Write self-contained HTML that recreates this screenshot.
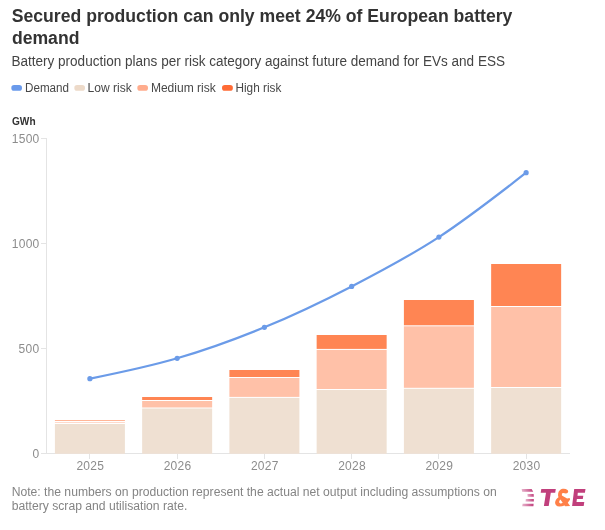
<!DOCTYPE html>
<html><head><meta charset="utf-8"><style>
html,body{margin:0;padding:0;background:#ffffff;width:605px;height:530px;overflow:hidden}
svg{display:block;will-change:transform}
text{font-family:"Liberation Sans",sans-serif}
.ax{font-size:12px;fill:#8c8c8c}
</style></head><body>
<svg width="605" height="530" viewBox="0 0 605 530">
<rect width="605" height="530" fill="#ffffff"/>
<text x="11.7" y="22" font-size="18" font-weight="bold" fill="#333333" textLength="500.7" lengthAdjust="spacingAndGlyphs">Secured production can only meet 24% of European battery</text>
<text x="11.9" y="44.3" font-size="18" font-weight="bold" fill="#333333" textLength="67.5" lengthAdjust="spacingAndGlyphs">demand</text>
<text x="11.4" y="65.8" font-size="14" fill="#444444" textLength="493.6" lengthAdjust="spacingAndGlyphs">Battery production plans per risk category against future demand for EVs and ESS</text>
<g font-size="12" fill="#484848">
<rect x="11.3" y="85.1" width="10.7" height="5.7" rx="2.85" fill="#6a9aeb"/>
<text x="25" y="92.1" textLength="44" lengthAdjust="spacingAndGlyphs">Demand</text>
<rect x="74.3" y="85.1" width="10.7" height="5.7" rx="2.85" fill="#eddac9"/>
<text x="87.6" y="92.1" textLength="44.2" lengthAdjust="spacingAndGlyphs">Low risk</text>
<rect x="137.3" y="85.1" width="10.7" height="5.7" rx="2.85" fill="#ffac8d"/>
<text x="150.9" y="92.1" textLength="64.9" lengthAdjust="spacingAndGlyphs">Medium risk</text>
<rect x="222" y="85.1" width="10.9" height="5.7" rx="2.85" fill="#ff6b35"/>
<text x="235.5" y="92.1" textLength="45.8" lengthAdjust="spacingAndGlyphs">High risk</text>
</g>
<text x="12" y="125" font-size="11.5" font-weight="bold" fill="#333333" textLength="23.6" lengthAdjust="spacingAndGlyphs">GWh</text>
<line x1="46.5" y1="138" x2="46.5" y2="454" stroke="#e4e4e4" stroke-width="1"/><line x1="41" y1="453.5" x2="570" y2="453.5" stroke="#e4e4e4" stroke-width="1"/><line x1="41" y1="138.5" x2="46" y2="138.5" stroke="#e4e4e4" stroke-width="1"/><line x1="41" y1="243.5" x2="46" y2="243.5" stroke="#e4e4e4" stroke-width="1"/><line x1="41" y1="348.5" x2="46" y2="348.5" stroke="#e4e4e4" stroke-width="1"/>
<rect x="54.90" y="424.00" width="70" height="29.75" fill="#efe0d2"/>
<rect x="54.90" y="422.00" width="70" height="1.00" fill="#ffc1a8" fill-opacity="0.6"/>
<rect x="54.90" y="420.00" width="70" height="1.00" fill="#ff8553" fill-opacity="0.6"/>
<rect x="142.15" y="408.50" width="70" height="45.25" fill="#efe0d2"/>
<rect x="142.15" y="401.00" width="70" height="6.50" fill="#ffc1a8"/>
<rect x="142.15" y="397.00" width="70" height="3.00" fill="#ff8553"/>
<rect x="229.40" y="397.90" width="70" height="55.85" fill="#efe0d2"/>
<rect x="229.40" y="378.00" width="70" height="18.90" fill="#ffc1a8"/>
<rect x="229.40" y="370.00" width="70" height="7.00" fill="#ff8553"/>
<rect x="316.65" y="390.00" width="70" height="63.75" fill="#efe0d2"/>
<rect x="316.65" y="349.90" width="70" height="39.10" fill="#ffc1a8"/>
<rect x="316.65" y="335.00" width="70" height="13.90" fill="#ff8553"/>
<rect x="403.90" y="388.80" width="70" height="64.95" fill="#efe0d2"/>
<rect x="403.90" y="326.30" width="70" height="61.50" fill="#ffc1a8"/>
<rect x="403.90" y="300.00" width="70" height="25.30" fill="#ff8553"/>
<rect x="491.15" y="388.00" width="70" height="65.75" fill="#efe0d2"/>
<rect x="491.15" y="307.00" width="70" height="80.00" fill="#ffc1a8"/>
<rect x="491.15" y="264.00" width="70" height="42.00" fill="#ff8553"/>
<text x="11.70" y="142.6" class="ax" textLength="27.60" lengthAdjust="spacing">1500</text><text x="11.70" y="247.6" class="ax" textLength="27.60" lengthAdjust="spacing">1000</text><text x="18.60" y="352.6" class="ax" textLength="20.70" lengthAdjust="spacing">500</text><text x="32.40" y="457.6" class="ax" textLength="6.90" lengthAdjust="spacing">0</text>
<line x1="89.5" y1="454" x2="89.5" y2="459" stroke="#e4e4e4" stroke-width="1"/><text x="76.40" y="469.8" class="ax" textLength="27.6" lengthAdjust="spacing">2025</text><line x1="177.5" y1="454" x2="177.5" y2="459" stroke="#e4e4e4" stroke-width="1"/><text x="163.65" y="469.8" class="ax" textLength="27.6" lengthAdjust="spacing">2026</text><line x1="264.5" y1="454" x2="264.5" y2="459" stroke="#e4e4e4" stroke-width="1"/><text x="250.90" y="469.8" class="ax" textLength="27.6" lengthAdjust="spacing">2027</text><line x1="351.5" y1="454" x2="351.5" y2="459" stroke="#e4e4e4" stroke-width="1"/><text x="338.15" y="469.8" class="ax" textLength="27.6" lengthAdjust="spacing">2028</text><line x1="438.5" y1="454" x2="438.5" y2="459" stroke="#e4e4e4" stroke-width="1"/><text x="425.40" y="469.8" class="ax" textLength="27.6" lengthAdjust="spacing">2029</text><line x1="526.5" y1="454" x2="526.5" y2="459" stroke="#e4e4e4" stroke-width="1"/><text x="512.65" y="469.8" class="ax" textLength="27.6" lengthAdjust="spacing">2030</text>
<path d="M89.90,378.70C118.98,372.78 148.07,366.87 177.15,358.30C206.23,349.73 235.32,339.28 264.40,327.30C293.48,315.32 322.57,301.43 351.65,286.40C380.73,271.37 409.82,256.05 438.90,237.10C467.98,218.15 497.07,195.42 526.15,172.70" fill="none" stroke="#6b9be8" stroke-width="2.2"/>
<circle cx="89.90" cy="378.7" r="2.6" fill="#6b9be8"/><circle cx="177.15" cy="358.3" r="2.6" fill="#6b9be8"/><circle cx="264.40" cy="327.3" r="2.6" fill="#6b9be8"/><circle cx="351.65" cy="286.4" r="2.6" fill="#6b9be8"/><circle cx="438.90" cy="237.1" r="2.6" fill="#6b9be8"/><circle cx="526.15" cy="172.7" r="2.6" fill="#6b9be8"/>
<g font-size="12" fill="#848484">
<text x="11.7" y="496.3" textLength="485" lengthAdjust="spacingAndGlyphs">Note: the numbers on production represent the actual net output including assumptions on</text>
<text x="11.7" y="510.2" textLength="175.6" lengthAdjust="spacingAndGlyphs">battery scrap and utilisation rate.</text>
</g>
<g id="logo">
<defs><linearGradient id="lg" x1="0" x2="1" y1="0" y2="0"><stop offset="0" stop-color="#c13f7c" stop-opacity="0.4"/><stop offset="1" stop-color="#c13f7c" stop-opacity="1"/></linearGradient></defs>
<path d="M521.6,489.1H531.6L533.2,491.8H522.2Z" fill="url(#lg)"/>
<path d="M527.4,493.9H533.6L533.8,496.7H527.6Z" fill="url(#lg)"/>
<path d="M525.8,498.9H533.8L533.8,501.6H525.6Z" fill="url(#lg)"/>
<path d="M522.6,503.7H533.6L533.4,506.3H522.2Z" fill="url(#lg)"/>
<path d="M541.3,489.1L555.8,489.1L555.2,492.8L550.8,492.8L548.7,506L543.9,506L546,492.8L540.7,492.8Z" fill="#c13f7c"/>
<path fill-rule="evenodd" fill="#ff8048" d="M563.9,488.8C566.6,488.8 568.4,490.2 568.2,491.7C568,492.6 567.2,493.2 566,493.6L563.2,492.9L561.9,493.6L561.9,495.4L567.1,498.4L569.6,497.9L570.1,499.4L567.8,502.8L570.1,506.1L565.3,506.3L564.5,505.5C563,506.2 561.2,506.5 559.3,506.5C556.5,506.5 555,504.7 555.1,502.5C555.2,500.3 556.7,498.6 558.5,497.3C558,496.3 558,495.2 558.1,494.1C558.4,490.8 560.6,488.8 563.9,488.8ZM560.4,499.6L562.7,502.7C562,503.3 561.2,503.5 560.4,503.4C559.5,503.3 559,502.5 559.2,501.6C559.3,500.8 559.8,500.1 560.4,499.6Z"/>
<path d="M574.2,489.1L585.5,489.1L584.9,492.8L577.8,492.8L577.5,495.8L583.3,495.8L582.8,499.1L576.9,499.1L576.5,502.1L584.3,502.1L583.7,506L572.1,506Z" fill="#c13f7c"/>
</g>
</svg>
</body></html>
